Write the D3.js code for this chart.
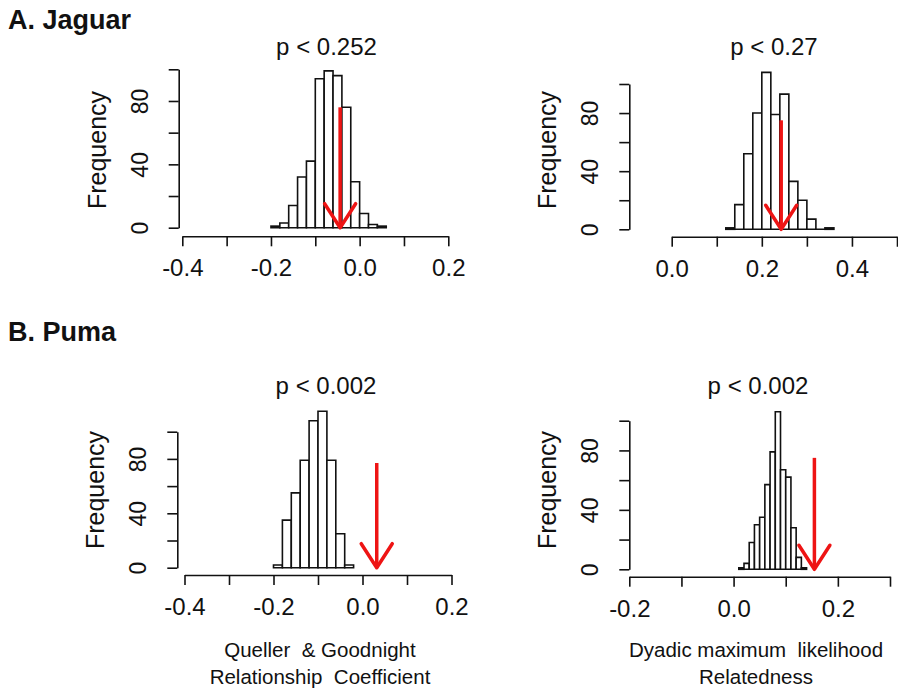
<!DOCTYPE html>
<html>
<head>
<meta charset="utf-8">
<script src="https://cdn.jsdelivr.net/npm/d3@7"></script>
<style>
  html, body { margin: 0; padding: 0; background: #ffffff; }
  svg { display: block; font-family: "Liberation Sans", Arial, Helvetica, sans-serif; }
  text { white-space: pre; fill: #111; }
</style>
</head>
<body>
<svg id="chart" width="898" height="690"></svg>
<script>
// Null distributions of mean pairwise relatedness (permuted groupings)
// against the observed value (red arrow), for jaguars and pumas.

// ---- Jaguar, Queller & Goodnight coefficient ----
const jaguarQGBreaks = [-0.20, -0.18, -0.16, -0.14, -0.12, -0.10, -0.08, -0.06, -0.04, -0.02, 0.00, 0.02, 0.04, 0.06];
const jaguarQGCounts = [1, 3, 14, 32, 42, 94, 99, 96, 76, 29, 9, 2, 1];
const jaguarQGObserved = -0.044;
const jaguarQGArrowTop = 76;

// ---- Jaguar, dyadic maximum likelihood relatedness ----
const jaguarMLBreaks = [0.12, 0.14, 0.16, 0.18, 0.20, 0.22, 0.24, 0.26, 0.28, 0.30, 0.32, 0.34, 0.36];
const jaguarMLCounts = [1, 17, 52, 80, 108, 79, 93, 33, 20, 7, 0, 1];
const jaguarMLObserved = 0.243;
const jaguarMLArrowTop = 75;

// ---- Puma, Queller & Goodnight coefficient ----
const pumaQGBreaks = [-0.20, -0.18, -0.16, -0.14, -0.12, -0.10, -0.08, -0.06, -0.04, -0.02];
const pumaQGCounts = [2, 35, 55, 79, 108, 115, 79, 25, 2];
const pumaQGObserved = 0.032;
const pumaQGArrowTop = 77;

// ---- Puma, dyadic maximum likelihood relatedness ----
const pumaMLBreaks = [0.01, 0.02, 0.03, 0.04, 0.05, 0.06, 0.07, 0.08, 0.09, 0.10, 0.11, 0.12, 0.13, 0.14];
const pumaMLCounts = [1, 4, 18, 30, 35, 57, 79, 106, 67, 62, 28, 8, 1];
const pumaMLObserved = 0.155;
const pumaMLArrowTop = 75;

// ---- Titles and axis ticks ----
const pTitles = ["p < 0.252", "p < 0.27", "p < 0.002", "p < 0.002"];
const groupLabels = ["A. Jaguar", "B. Puma"];
const qgTicks = [-0.4, -0.3, -0.2, -0.1, 0.0, 0.1, 0.2];
const qgTickLabels = [-0.4, -0.2, 0.0, 0.2];
const jaguarMLTicks = [0.0, 0.1, 0.2, 0.3, 0.4, 0.5];
const jaguarMLTickLabels = [0.0, 0.2, 0.4];
const pumaMLTicks = [-0.2, -0.1, 0.0, 0.1, 0.2, 0.3];
const pumaMLTickLabels = [-0.2, 0.0, 0.2];
const freqTicks = [0, 20, 40, 60, 80, 100];
const freqTickLabels = [0, 40, 80];
const qgAxisTitle = ["Queller  & Goodnight", "Relationship  Coefficient"];
const mlAxisTitle = ["Dyadic maximum  likelihood", "Relatedness"];

const panels = [
  { breaks: jaguarQGBreaks, counts: jaguarQGCounts, observed: jaguarQGObserved, arrowTop: jaguarQGArrowTop,
    title: pTitles[0], ticks: qgTicks, tickLabels: qgTickLabels,
    geom: { xPx: [182.3, 448.3], axisY: 236.3, yAxisX: 178.7, yPx: [227.7, 69.3], titleX: 326.5, titleY: 54.5, midY: 150 } },
  { breaks: jaguarMLBreaks, counts: jaguarMLCounts, observed: jaguarMLObserved, arrowTop: jaguarMLArrowTop,
    title: pTitles[1], ticks: jaguarMLTicks, tickLabels: jaguarMLTickLabels,
    geom: { xPx: [671.7, 897], axisY: 236.7, yAxisX: 629.3, yPx: [229.3, 84], titleX: 774, titleY: 54.5, midY: 150 } },
  { breaks: pumaQGBreaks, counts: pumaQGCounts, observed: pumaQGObserved, arrowTop: pumaQGArrowTop,
    title: pTitles[2], ticks: qgTicks, tickLabels: qgTickLabels, axisTitle: qgAxisTitle,
    geom: { xPx: [184.5, 451.5], axisY: 575, yAxisX: 177.3, yPx: [567.7, 431.7], titleX: 326, titleY: 393.5, midY: 490, axisTitleX: 320 } },
  { breaks: pumaMLBreaks, counts: pumaMLCounts, observed: pumaMLObserved, arrowTop: pumaMLArrowTop,
    title: pTitles[3], ticks: pumaMLTicks, tickLabels: pumaMLTickLabels, axisTitle: mlAxisTitle,
    geom: { xPx: [629.3, 890], axisY: 576.7, yAxisX: 629.3, yPx: [569.3, 420.7], titleX: 758, titleY: 393.5, midY: 490, axisTitleX: 756 } }
];

const svg = d3.select("#chart");
const INK = "#111";
const RED = "#ee1414";
const fmt = d => d.toFixed(1);   // hyphen-minus, one decimal

// Group headings
svg.append("text").attr("x", 8).attr("y", 29)
  .attr("font-size", 27).attr("font-weight", "bold").text(groupLabels[0]);
svg.append("text").attr("x", 8).attr("y", 341)
  .attr("font-size", 27).attr("font-weight", "bold").text(groupLabels[1]);

panels.forEach(p => {
  const g = p.geom;
  const x = d3.scaleLinear().domain([p.ticks[0], p.ticks[p.ticks.length - 1]]).range(g.xPx);
  const y = d3.scaleLinear().domain([0, 100]).range(g.yPx);
  const layer = svg.append("g");

  // Histogram bars (paths so empty bins still show as a flat line)
  layer.selectAll("path.bar").data(p.counts).join("path")
    .attr("class", "bar")
    .attr("d", (c, i) => {
      const x0 = x(p.breaks[i]), x1 = x(p.breaks[i + 1]);
      return `M${x0},${y(0)}V${y(c)}H${x1}V${y(0)}Z`;
    })
    .attr("fill", "#fff").attr("stroke", INK).attr("stroke-width", 1.6);

  // X axis
  const xAxis = d3.axisBottom(x).tickValues(p.ticks).tickSize(10).tickSizeOuter(0).tickPadding(13)
    .tickFormat(d => p.tickLabels.some(v => Math.abs(v - d) < 1e-9) ? fmt(d) : "");
  const gx = layer.append("g").attr("transform", `translate(0,${g.axisY})`).call(xAxis);
  gx.selectAll("path, line").attr("stroke", INK).attr("stroke-width", 1.6);
  gx.selectAll("text").attr("font-size", 24).attr("fill", INK)
    .attr("font-family", "Liberation Sans, Arial, sans-serif");

  // Y axis with labels parallel to the axis
  const yAxis = d3.axisLeft(y).tickValues(freqTicks).tickSize(10).tickSizeOuter(0)
    .tickFormat(d => freqTickLabels.includes(d) ? String(d) : "");
  const gy = layer.append("g").attr("transform", `translate(${g.yAxisX},0)`).call(yAxis);
  gy.selectAll("path, line").attr("stroke", INK).attr("stroke-width", 1.6);
  gy.selectAll("text")
    .attr("transform", "rotate(-90)")
    .attr("x", 0).attr("y", -31).attr("dy", 0)
    .attr("text-anchor", "middle")
    .attr("font-size", 23).attr("fill", INK)
    .attr("font-family", "Liberation Sans, Arial, sans-serif");

  // Axis title "Frequency"
  layer.append("text")
    .attr("transform", `translate(${g.yAxisX - 73},${g.midY}) rotate(-90)`)
    .attr("text-anchor", "middle").attr("font-size", 25).text("Frequency");

  // p-value title
  layer.append("text").attr("x", g.titleX).attr("y", g.titleY)
    .attr("text-anchor", "middle").attr("font-size", 24).text(p.title);

  // Observed value arrow
  const ax = x(p.observed), yTop = y(p.arrowTop), yTip = y(0);
  layer.append("line").attr("x1", ax).attr("x2", ax).attr("y1", yTop).attr("y2", yTip)
    .attr("stroke", RED).attr("stroke-width", 3.5);
  layer.append("path")
    .attr("d", `M${ax - 15.5},${yTip - 24}L${ax},${yTip}L${ax + 15.5},${yTip - 24}`)
    .attr("fill", "none").attr("stroke", RED).attr("stroke-width", 3.5)
    .attr("stroke-linecap", "round").attr("stroke-linejoin", "round");

  // Variable name under the bottom row
  if (p.axisTitle) {
    p.axisTitle.forEach((line, i) => {
      layer.append("text").attr("x", g.axisTitleX).attr("y", 657 + i * 27)
        .attr("text-anchor", "middle").attr("font-size", 20.5).text(line);
    });
  }
});
</script>
</body>
</html>
